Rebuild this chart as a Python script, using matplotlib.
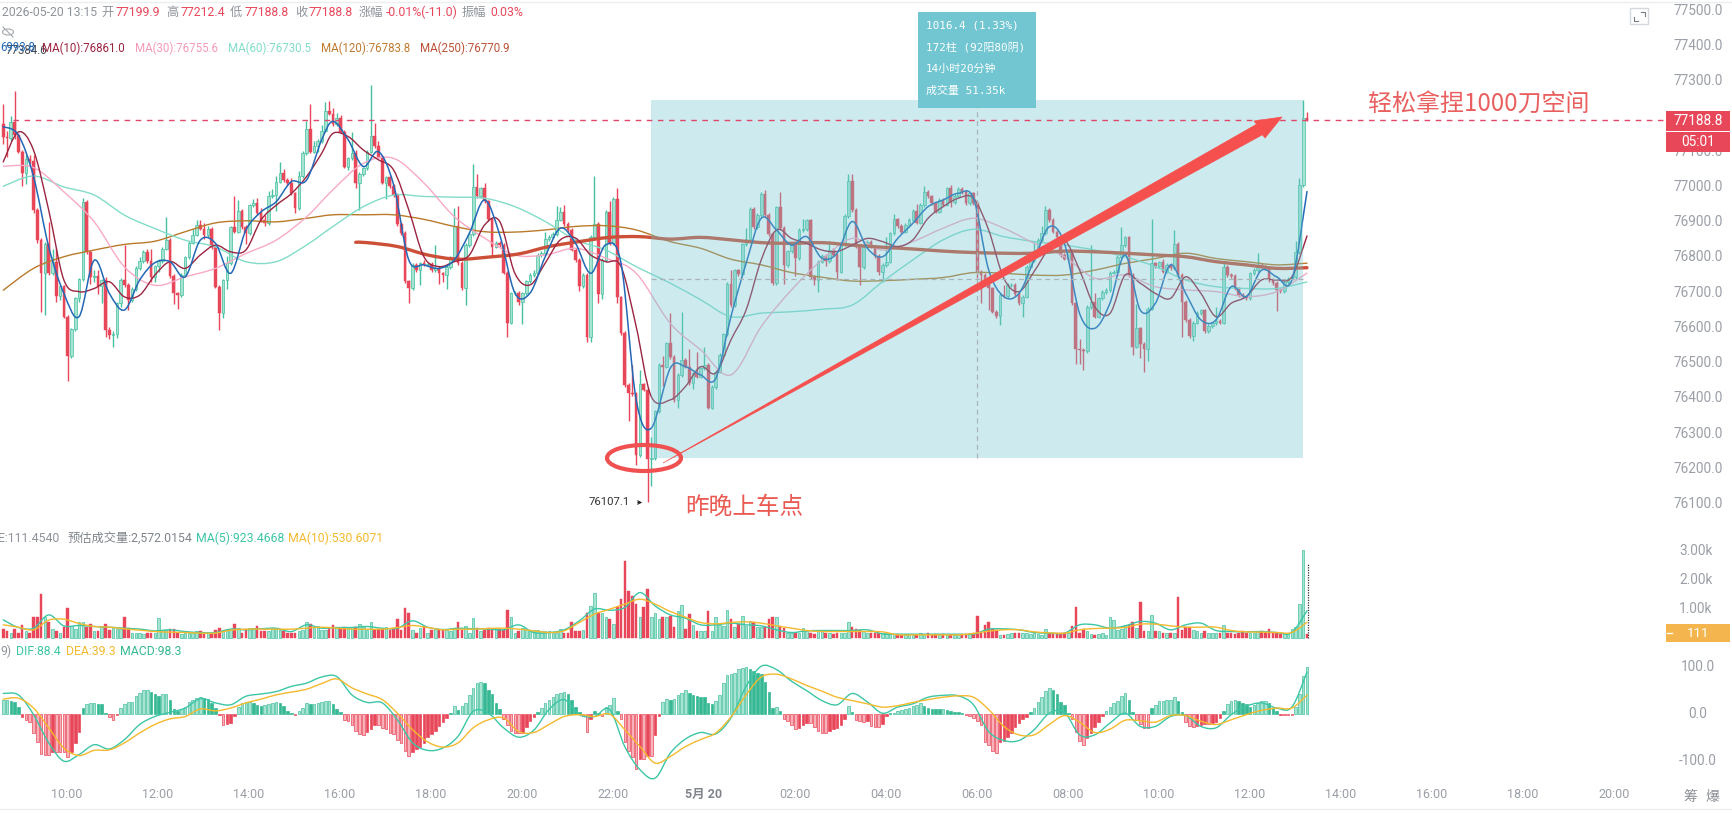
import matplotlib
matplotlib.use('Agg')
import matplotlib.pyplot as plt
from matplotlib.patches import Ellipse, PathPatch, Polygon, Rectangle
from matplotlib.path import Path
import numpy as np

W, H = 1733, 813
LATIN = ['Roboto', 'Noto Sans CJK SC']
MONO = ['DejaVu Sans Mono', 'Noto Sans CJK SC']
CJK = ['Noto Sans CJK SC', 'DejaVu Sans']

first_open = 77180
closes = [
    77143, 77140, 77185, 77147, 77100, 77040, 77080, 77075, 76935, 76850,
    76756, 76838, 76756, 76788, 76690, 76718, 76632, 76521, 76596, 76684,
    76738, 76958, 76816, 76745, 76748, 76720, 76735, 76594, 76580, 76582,
    76670, 76737, 76722, 76680, 76710, 76770, 76790, 76815, 76790, 76745,
    76775, 76790, 76825, 76850, 76747, 76698, 76694, 76750, 76800, 76842,
    76865, 76892, 76882, 76863, 76880, 76830, 76717, 76643, 76735, 76785,
    76885, 76873, 76933, 76887, 76868, 76948, 76955, 76925, 76905, 76898,
    76974, 76978, 77015, 77040, 77020, 77010, 76982, 76940, 77030, 77097,
    77163, 77100, 77115, 77130, 77160, 77215, 77208, 77179, 77195, 77157,
    77058, 77081, 77096, 77012, 77037, 77053, 77100, 77145, 77115, 77086,
    77012, 77027, 77003, 76977, 76895, 76869, 76732, 76713, 76779, 76765,
    76783, 76780, 76782, 76765, 76770, 76755, 76750, 76773, 76800, 76890,
    76784, 76712, 76836, 76866, 77001, 76975, 76996, 76959, 76908, 76831,
    76842, 76836, 76757, 76615, 76698, 76700, 76675, 76698, 76732, 76750,
    76755, 76807, 76812, 76852, 76859, 76867, 76907, 76928, 76895, 76878,
    76822, 76793, 76719, 76750, 76574, 76859, 76895, 76697, 76793, 76930,
    76840, 76966, 76687, 76585, 76438, 76415, 76412, 76240, 76440, 76425,
    76228, 76230, 76363, 76495, 76490, 76556, 76518, 76396, 76467, 76509,
    76490, 76443, 76471, 76462, 76485, 76495, 76374, 76432, 76476, 76523,
    76582, 76724, 76665, 76763, 76753, 76837, 76853, 76937, 76885, 76920,
    76980, 76920, 76867, 76727, 76942, 76883, 76779, 76817, 76835, 76798,
    76878, 76880, 76905, 76745, 76736, 76788, 76805, 76790, 76822, 76807,
    76760, 76837, 76918, 77018, 76935, 76831, 76772, 76831, 76845, 76831,
    76804, 76760, 76779, 76788, 76868, 76908, 76889, 76873, 76892, 76906,
    76933, 76899, 76949, 76987, 76973, 76954, 76930, 76963, 76950, 76996,
    76958, 76975, 76994, 76985, 76955, 76982, 76954, 76760, 76750, 76725,
    76712, 76646, 76634, 76693, 76690, 76722, 76722, 76696, 76670, 76689,
    76774, 76793, 76816, 76850, 76868, 76935, 76906, 76873, 76857, 76807,
    76797, 76816, 76670, 76539, 76538, 76535, 76660, 76674, 76632, 76684,
    76702, 76708, 76757, 76760, 76802, 76835, 76857, 76750, 76547, 76599,
    76555, 76540, 76655, 76783, 76775, 76786, 76760, 76778, 76770, 76838,
    76750, 76675, 76622, 76577, 76615, 76643, 76650, 76592, 76605, 76613,
    76620, 76615, 76774, 76750, 76748, 76712, 76693, 76689, 76685, 76755,
    76764, 76779, 76775, 76770, 76736, 76727, 76708, 76705, 76731, 76740,
    76745, 76816, 77005, 77197, 77188.8,
]
wick_up = [
    55, 15, 15, 88, 5, 5, 10, 10, 15, 5,
    5, 5, 63, 35, 40, 5, 5, 5, 5, 5,
    5, 12, 5, 5, 15, 15, 5, 10, 10, 10,
    5, 5, 98, 5, 5, 5, 10, 5, 10, 35,
    5, 5, 5, 65, 5, 5, 5, 5, 5, 5,
    15, 15, 15, 15, 10, 5, 5, 5, 5, 20,
    5, 90, 30, 5, 5, 5, 10, 15, 15, 15,
    15, 15, 15, 30, 10, 5, 15, 5, 15, 5,
    25, 72, 15, 5, 15, 25, 30, 15, 15, 10,
    5, 5, 60, 10, 5, 5, 5, 144, 36, 15,
    5, 5, 5, 5, 5, 5, 5, 5, 5, 5,
    5, 10, 5, 5, 65, 5, 5, 5, 5, 50,
    55, 5, 5, 5, 65, 35, 5, 15, 5, 5,
    5, 5, 5, 5, 5, 5, 5, 5, 5, 5,
    10, 5, 5, 20, 5, 5, 40, 15, 20, 5,
    5, 5, 5, 5, 5, 5, 136, 5, 5, 5,
    30, 5, 30, 5, 5, 5, 80, 5, 40, 5,
    5, 60, 5, 5, 25, 5, 85, 5, 5, 137,
    5, 50, 5, 60, 5, 50, 5, 5, 5, 5,
    5, 5, 40, 5, 5, 5, 30, 5, 5, 5,
    5, 10, 5, 5, 5, 45, 5, 5, 5, 5,
    5, 30, 5, 5, 5, 5, 5, 5, 25, 5,
    5, 5, 5, 20, 20, 5, 5, 5, 5, 5,
    5, 5, 5, 70, 5, 15, 5, 5, 5, 5,
    5, 20, 5, 15, 5, 5, 5, 5, 5, 5,
    10, 5, 5, 5, 5, 5, 5, 5, 5, 5,
    5, 5, 5, 5, 30, 5, 5, 5, 5, 5,
    5, 5, 30, 5, 20, 10, 5, 5, 5, 5,
    5, 5, 5, 5, 30, 5, 5, 160, 25, 5,
    5, 5, 5, 5, 5, 50, 5, 5, 5, 70,
    5, 5, 5, 125, 5, 5, 10, 5, 5, 40,
    5, 5, 5, 5, 5, 5, 5, 5, 5, 5,
    40, 5, 15, 5, 5, 5, 5, 5, 5, 5,
    5, 35, 5, 5, 5, 5, 5, 5, 5, 5,
    5, 30, 20, 51, 15,
]
wick_down = [
    20, 55, 10, 10, 5, 38, 33, 10, 10, 10,
    112, 120, 5, 5, 15, 10, 5, 72, 5, 5,
    10, 5, 5, 20, 15, 25, 50, 20, 12, 35,
    10, 10, 5, 30, 5, 5, 5, 5, 5, 15,
    15, 15, 5, 5, 5, 30, 40, 5, 5, 5,
    5, 5, 5, 10, 5, 5, 5, 49, 16, 25,
    5, 5, 5, 5, 30, 5, 5, 5, 5, 10,
    5, 5, 45, 5, 5, 5, 5, 15, 5, 5,
    5, 5, 5, 15, 5, 5, 5, 5, 5, 5,
    5, 10, 5, 15, 78, 5, 5, 5, 5, 5,
    5, 45, 5, 5, 5, 5, 5, 42, 5, 5,
    42, 5, 5, 5, 5, 30, 20, 40, 5, 5,
    5, 5, 48, 5, 5, 5, 5, 5, 5, 30,
    5, 5, 5, 40, 5, 5, 10, 65, 5, 5,
    5, 5, 5, 5, 5, 5, 5, 5, 5, 5,
    5, 5, 15, 5, 15, 15, 5, 25, 15, 5,
    5, 5, 15, 5, 5, 80, 5, 30, 5, 5,
    121, 75, 5, 5, 55, 5, 5, 5, 22, 5,
    5, 5, 15, 5, 5, 5, 5, 5, 5, 5,
    5, 5, 5, 5, 5, 5, 5, 5, 5, 5,
    5, 5, 5, 5, 5, 5, 55, 5, 5, 50,
    5, 5, 5, 5, 15, 35, 5, 15, 5, 5,
    25, 5, 5, 5, 5, 5, 50, 5, 5, 5,
    5, 10, 30, 5, 5, 5, 5, 5, 5, 5,
    5, 5, 5, 5, 5, 5, 5, 5, 5, 5,
    15, 5, 5, 5, 5, 5, 5, 18, 80, 5,
    60, 5, 5, 25, 5, 5, 5, 5, 5, 40,
    5, 5, 5, 5, 5, 5, 5, 5, 5, 5,
    5, 5, 5, 40, 40, 55, 5, 5, 5, 5,
    5, 5, 5, 5, 5, 5, 5, 5, 25, 5,
    40, 65, 35, 5, 5, 5, 5, 5, 5, 5,
    5, 100, 5, 5, 15, 5, 5, 5, 5, 5,
    5, 5, 5, 5, 5, 5, 5, 5, 5, 5,
    5, 5, 5, 5, 5, 5, 60, 5, 5, 5,
    5, 5, 5, 5, 3,
]
volumes = [
    290, 230, 140, 290, 170, 440, 230, 170, 690, 710,
    1500, 690, 520, 290, 230, 170, 350, 1010, 400, 290,
    550, 520, 350, 480, 210, 210, 400, 460, 250, 320,
    290, 290, 710, 320, 140, 140, 160, 115, 140, 140,
    140, 670, 250, 250, 290, 290, 170, 115, 160, 170,
    170, 230, 210, 115, 140, 115, 250, 320, 250, 250,
    290, 460, 320, 170, 290, 320, 320, 400, 210, 210,
    230, 320, 320, 250, 230, 140, 170, 140, 210, 250,
    520, 460, 320, 400, 250, 250, 320, 440, 345, 290,
    345, 320, 345, 345, 480, 345, 250, 550, 250, 290,
    290, 345, 250, 290, 630, 250, 1010, 860, 250, 140,
    320, 400, 140, 250, 320, 250, 250, 250, 210, 290,
    540, 250, 400, 170, 670, 320, 210, 250, 320, 290,
    320, 290, 250, 940, 690, 170, 230, 320, 290, 250,
    250, 250, 210, 210, 210, 170, 170, 290, 140, 170,
    520, 210, 230, 250, 860, 1090, 1550, 860, 860, 690,
    630, 460, 1035, 1320, 2650, 1610, 1440, 1150, 690, 1035,
    1670, 690, 860, 630, 690, 690, 750, 370, 920, 1115,
    290, 800, 440, 230, 230, 230, 920, 230, 690, 440,
    400, 940, 630, 345, 460, 750, 400, 575, 520, 370,
    345, 345, 630, 690, 690, 400, 320, 170, 170, 140,
    140, 320, 230, 170, 115, 210, 210, 170, 140, 115,
    140, 140, 140, 520, 345, 290, 250, 230, 170, 140,
    170, 140, 140, 140, 115, 115, 115, 90, 115, 115,
    90, 90, 140, 115, 140, 90, 115, 90, 115, 90,
    90, 90, 115, 115, 115, 170, 170, 750, 170, 440,
    520, 290, 250, 90, 90, 115, 140, 170, 170, 140,
    140, 115, 140, 115, 90, 290, 140, 140, 140, 140,
    170, 140, 400, 1035, 170, 290, 230, 115, 90, 115,
    170, 90, 690, 600, 250, 290, 440, 440, 550, 320,
    1210, 210, 230, 770, 230, 210, 170, 140, 170, 170,
    1380, 250, 345, 345, 250, 230, 170, 210, 140, 170,
    140, 170, 440, 170, 140, 115, 140, 230, 140, 140,
    140, 230, 210, 170, 310, 140, 170, 115, 115, 115,
    290, 345, 1150, 3020, 111,
]
macd_hist = [
    30, 30, 28, 25, 15, -6, -14, -18, -40, -60,
    -85, -87, -88, -82, -82, -82, -82, -92, -82, -62,
    -38, 12, 20, 22, 22, 21, 20, 2, -6, -13,
    -3, 13, 20, 24, 25, 38, 44, 50, 50, 47,
    41, 38, 41, 41, 29, 10, 5, 9, 14, 24,
    30, 33, 36, 34, 31, 22, 12, -3, -25, -22,
    -19, -4, 15, 22, 24, 24, 23, 18, 17, 18,
    20, 23, 25, 22, 16, 5, 1, -3, 5, 12,
    22, 20, 21, 22, 24, 27, 27, 20, 10, 3,
    -13, -16, -24, -36, -44, -46, -38, -32, -24, -24,
    -30, -33, -40, -44, -55, -62, -80, -91, -82, -75,
    -70, -62, -50, -44, -36, -26, -18, -10, 2, 16,
    8, 16, 22, 40, 55, 65, 68, 65, 50, 42,
    22, 10, -12, -25, -37, -40, -42, -40, -28, -16,
    -6, 3, 12, 22, 30, 36, 42, 45, 46, 42,
    30, 14, 3, -5, -39, -12, 6, 2, -5, 14,
    18, 33, 6, -12, -60, -80, -92, -117, -97, -97,
    -90, -90, -45, -5, 24, 32, 30, 32, 39, 43,
    50, 43, 39, 38, 36, 35, 22, 20, 28, 40,
    65, 83, 85, 87, 95, 97, 100, 95, 90, 87,
    85, 68, 47, 13, 15, 5, -12, -16, -25, -33,
    -30, -24, -20, -20, -28, -37, -40, -40, -36, -33,
    -30, -24, -12, 16, 3, -14, -15, -17, -15, -26,
    -28, -28, -22, -5, 1, 2, 5, 8, 10, 12,
    16, 18, 22, 17, 12, 11, 10, 9, 9, 7,
    5, 4, 3, 1, -2, -5, -10, -15, -25, -60,
    -66, -80, -83, -60, -58, -50, -40, -28, -20, -12,
    -6, 4, 12, 24, 35, 48, 55, 50, 42, 24,
    18, 2, -12, -39, -58, -66, -52, -40, -28, -18,
    -4, 5, 14, 22, 28, 38, 45, 30, 4, -14,
    -22, -30, -31, 12, 18, 26, 28, 30, 30, 35,
    28, 3, -18, -27, -29, -26, -24, -22, -22, -20,
    -17, -10, 6, 20, 26, 30, 26, 22, 20, 15,
    18, 22, 26, 26, 22, 12, 5, -3, -3, -3,
    -3, 14, 42, 80, 98.3,
]

# line series are read every 4 candles (fast) or every 8 candles (slow)
ma5 = [
    77171, 77147, 77029, 76830, 76698, 76632, 76792, 76698, 76651, 76736, 76785, 76788, 76745, 76849, 76840, 76755,
    76877, 76929, 76958, 77015, 77019, 77133, 77186, 77134, 77058, 77100, 77006, 76793, 76779, 76769, 76793, 76869,
    76963, 76864, 76699, 76699, 76802, 76883, 76840, 76755, 76836, 76784, 76396, 76316, 76486, 76490, 76467, 76457,
    76632, 76783, 76911, 76878, 76835, 76859, 76798, 76812, 76902, 76826, 76802, 76854, 76897, 76944, 76963, 76982,
    76968, 76765, 76689, 76698, 76793, 76887, 76840, 76641, 76599, 76670, 76807, 76651, 76670, 76779, 76698, 76623,
    76623, 76717, 76689, 76764, 76745, 76736, 76987,
]
ma10 = [
    77071, 77156, 77104, 76934, 76736, 76703, 76712, 76731, 76688, 76693, 76750, 76788, 76769, 76807, 76835, 76816,
    76821, 76906, 76948, 76981, 77029, 77095, 77152, 77143, 77105, 77077, 77048, 76935, 76802, 76774, 76788, 76807,
    76892, 76902, 76755, 76722, 76784, 76850, 76855, 76807, 76788, 76774, 76604, 76405, 76396, 76434, 76490, 76472,
    76566, 76651, 76793, 76878, 76854, 76840, 76821, 76817, 76835, 76854, 76845, 76831, 76850, 76911, 76944, 76968,
    76968, 76878, 76741, 76703, 76760, 76826, 76850, 76764, 76660, 76641, 76750, 76727, 76698, 76684, 76745, 76698,
    76632, 76670, 76689, 76736, 76736, 76745, 76861,
]
ma30 = [
    77059, 77055, 76986, 76901, 76773, 76721, 76745, 76769, 76811, 76849, 76915,
    76992, 77067, 77081, 77011, 76916, 76855, 76807, 76807, 76826, 76798, 76755,
    76613, 76538, 76467, 76604, 76708, 76793, 76854, 76821, 76845, 76883, 76911,
    76883, 76840, 76802, 76741, 76750, 76717, 76708, 76703, 76689, 76703, 76755.6,
]
ma60 = [
    77002, 77031, 77000, 76977, 76920, 76882, 76849, 76830, 76788, 76788, 76835,
    76888, 76944, 76977, 76973, 76971, 76968, 76944, 76902, 76850, 76821, 76774,
    76727, 76680, 76632, 76642, 76646, 76653, 76665, 76731, 76793, 76850, 76880,
    76859, 76845, 76835, 76821, 76802, 76774, 76736, 76717, 76712, 76712, 76730.5,
]
ma120 = [
    76707, 76769, 76802, 76821, 76837, 76846, 76873, 76898, 76904, 76901, 76911,
    76921, 76921, 76921, 76908, 76888, 76873, 76872, 76878, 76888, 76890, 76878,
    76845, 76826, 76795, 76779, 76757, 76744, 76733, 76734, 76738, 76743, 76757,
    76755, 76750, 76750, 76764, 76783, 76797, 76812, 76797, 76788, 76779, 76783.8,
]
ma250_start = 93
ma250 = [
    76843, 76842, 76831, 76807, 76795, 76801, 76810, 76831, 76845, 76857, 76859,
    76852, 76857, 76850, 76842, 76840, 76842, 76835, 76829, 76824, 76818, 76814,
    76812, 76812, 76818, 76816, 76812, 76807, 76802, 76788, 76779, 76769, 76770.9,
]
vol_ma5 = [
    610, 345, 320, 780, 400, 415, 380, 355, 320, 290, 230, 265, 205, 170, 170, 290,
    265, 300, 320, 205, 435, 320, 345, 345, 380, 320, 320, 575, 355, 275, 320, 300,
    290, 265, 435, 170, 170, 265, 575, 980, 940, 1035, 1550, 1090,
    780, 667, 437, 437, 495, 437, 402, 265, 172, 230, 241, 241, 241, 265, 126, 115,
    115, 115, 115, 115, 115, 287, 299, 265, 172, 150, 150, 437, 437, 322, 402, 552,
    495, 265, 437, 495, 241, 207, 195, 207, 172, 172, 923,
]
vol_ma10 = [
    437, 356, 265, 600, 630, 483, 380, 356, 300, 253, 207, 184, 172, 150, 150, 253,
    287, 287, 287, 287, 322, 356, 322, 287, 287, 287, 345, 414, 345, 265, 287, 287,
    310, 322, 287, 230, 172, 230, 517, 805, 977, 1150, 1322, 1150,
    897, 700, 517, 471, 517, 540, 495, 402, 322, 241, 207, 207, 207, 207, 195, 92,
    92, 92, 92, 92, 138, 218, 265, 265, 195, 161, 150, 265, 310, 322, 345, 460,
    460, 402, 356, 356, 356, 241, 195, 184, 172, 172, 530,
]
dif = [
    43, 40, -2, -62, -101, -87, -66, -75, -55, -23, -6, 3, 12, 32, 23, 19,
    37, 42, 47, 58, 65, 78, 79, 40, 24, 23, -13, -62, -78, -73, -48, 5,
    1, -30, -50, -35, 9, 30, -2, -6, 9, -70, -119, -137,
    -84, -54, -40, -43, -9, 58, 101, 94, 69, 49, 28, 19, 43, 25, 1, 14,
    21, 35, 39, 38, 19, -38, -57, -57, -34, 1, 3, -45, -45, -20, 1, -27,
    -27, -6, -4, -27, -30, -2, 16, 23, 12, 14, 88.4,
]
dea = [
    31, 33, 12, -30, -73, -89, -78, -77, -62, -41, -23, -11, -6, 10, 6, 12,
    23, 31, 40, 46, 52, 64, 74, 55, 42, 30, 1, -34, -60, -71, -62, -30,
    -13, -9, -38, -40, -23, -6, -2, -6, -1, -34, -70, -105,
    -91, -70, -55, -41, -7, 40, 78, 84, 74, 60, 48, 35, 28, 21, 14, 17,
    24, 30, 35, 38, 35, 9, -27, -45, -45, -23, -4, -18, -40, -33, -14, -15,
    -18, -4, -4, -16, -23, -13, -2, 7, 12, 12, 39.3,
]
estimated_volume = 2572.0154
current_price = 77188.8
range_low, range_high = 76232, 77248

price_ticks = [77500, 77400, 77300, 77100, 77000, 76900, 76800, 76700, 76600, 76500, 76400, 76300, 76200, 76100]
vol_ticks = [3000, 2000, 1000]
vol_tick_labels = ['3.00k', '2.00k', '1.00k']
macd_ticks = [100, 0, -100]
macd_tick_labels = ['100.0', '0.0', '-100.0']
time_labels = ['10:00', '12:00', '14:00', '16:00', '18:00', '20:00', '22:00', '5月 20',
               '02:00', '04:00', '06:00', '08:00', '10:00', '12:00', '14:00', '16:00', '18:00', '20:00']

UP = '#46c0a0'
UP_PALE = '#a6e3d0'
DOWN = '#e8475a'
DOWN_PALE = '#fab2ba'
SOLID_UP = '#35b893'
GRAY = '#8e939b'
TICK = '#9a9fa7'
BOX = '#72c6d2'

CANDLE_W = 3.79          # px per candle
X_LAST = 1307            # px of the last candle


def pane(top, bottom, y_top, y_bottom):
    a = fig.add_axes([0, 1 - bottom / H, 1666 / W, (bottom - top) / H])
    a.set_xlim((0 - X_LAST) / CANDLE_W + len(closes) - 1, (1666 - X_LAST) / CANDLE_W + len(closes) - 1)
    a.set_ylim(y_bottom, y_top)
    a.axis('off')
    a.patch.set_alpha(0)
    return a


def curve(a, xs, ys, **kw):
    # rounded line through the read points, the chart draws its averages smooth too
    pts = np.column_stack([xs, ys]).astype(float)
    verts = [pts[0]]
    codes = [Path.MOVETO]
    for k in range(len(pts) - 1):
        before = pts[max(k - 1, 0)]
        after = pts[min(k + 2, len(pts) - 1)]
        verts += [pts[k] + (pts[k + 1] - before) / 6, pts[k + 1] - (after - pts[k]) / 6, pts[k + 1]]
        codes += [Path.CURVE4] * 3
    a.add_patch(PathPatch(Path(verts, codes), fill=False, capstyle='round', **kw))


fig = plt.figure(figsize=(W / 100, H / 100), dpi=100, facecolor='white')

idx = np.arange(len(closes))
closes_a = np.array(closes, dtype=float)
opens = np.r_[first_open, closes_a[:-1]]
up_mask = closes_a >= opens
tops = np.maximum(opens, closes_a)
bots = np.minimum(opens, closes_a)
highs = tops + np.array(wick_up)
lows = bots - np.array(wick_down)
lows[170] = 76107.1
fast_x = np.arange(0, len(closes), 4)
slow_x = np.arange(0, len(closes), 8)
# the middle stretch of the price averages was read one candle late
price_fast_x = fast_x.copy()
price_fast_x[22:44] -= 1
price_slow_x = slow_x.copy()
price_slow_x[11:22] -= 1

# price pane: 100 price units = 35.25 px, 77500 sits at y=10.7
scale = 0.3525
ax = pane(0, 520, 77500 + 10.7 / scale, 77500 - (520 - 10.7) / scale)
ax.vlines(idx[up_mask], lows[up_mask], highs[up_mask], color=UP, lw=1, zorder=2)
ax.vlines(idx[~up_mask], lows[~up_mask], highs[~up_mask], color=DOWN, lw=1, zorder=2)
ax.bar(idx[up_mask], (tops - bots)[up_mask], bottom=bots[up_mask], width=0.7, color=UP_PALE, edgecolor=UP, lw=0.5, zorder=3)
ax.bar(idx[~up_mask], (tops - bots)[~up_mask], bottom=bots[~up_mask], width=0.7, color=DOWN, edgecolor=DOWN, lw=0.3, zorder=3)
curve(ax, price_slow_x, ma120, color='#b97a2a', lw=1, zorder=4)
curve(ax, price_slow_x, ma60, color='#82dcc9', lw=1, zorder=4)
curve(ax, price_slow_x, ma30, color='#f8a9c6', lw=1, zorder=4)
curve(ax, np.r_[ma250_start, np.arange(96, len(closes), 8)], ma250, color='#cc5038', lw=2.4, zorder=4)
curve(ax, price_fast_x, ma10, color='#9b2440', lw=1, zorder=4)
curve(ax, price_fast_x, ma5, color='#2268b6', lw=1.1, zorder=4)
rect_left = (651 - X_LAST) / CANDLE_W + len(closes) - 1
rect_right = (1303 - X_LAST) / CANDLE_W + len(closes) - 1
ax.add_patch(Rectangle((rect_left, range_low), rect_right - rect_left, range_high - range_low,
                       facecolor=BOX, alpha=0.35, lw=0, zorder=5))
ax.plot([rect_left, rect_right], [(range_low + range_high) / 2] * 2, color='#a9b4b8', lw=0.9, ls=(0, (4, 3)), zorder=6)
mid_i = (rect_left + rect_right) / 2
ax.plot([mid_i, mid_i], [range_low, range_high], color='#a9b4b8', lw=0.9, ls=(0, (4, 3)), zorder=6)
ax.plot([2.6, (1666 - X_LAST) / CANDLE_W + len(closes) - 1], [current_price] * 2, color='#e0476a', lw=1, ls=(0, (4, 4)), zorder=6)

# volume pane: 1000 = 29 px
vax = pane(540, 640, (637.5 - 540) / 0.029, -(640 - 637.5) / 0.029)
vols = np.array(volumes)
vax.bar(idx[up_mask], vols[up_mask], width=0.68, color=UP_PALE, edgecolor=UP, lw=0.5, zorder=2)
vax.bar(idx[~up_mask], vols[~up_mask], width=0.68, color=DOWN, edgecolor=DOWN, lw=0.3, zorder=2)
vax.plot([idx[-1] + 0.2] * 2, [0, estimated_volume], color='#333333', lw=0.9, ls=(0, (1, 1)), zorder=3)
curve(vax, fast_x, vol_ma5, color='#3cc6a6', lw=1, zorder=4)
curve(vax, fast_x, vol_ma10, color='#f4b92e', lw=1, zorder=4)

# macd pane: 100 = 47 px
max_ = pane(645, 790, (713.7 - 645) / 0.47, -(790 - 713.7) / 0.47)
hist = np.array(macd_hist, dtype=float)
prev = np.r_[hist[0], hist[:-1]]
growing = np.abs(hist) >= np.abs(prev)
for mask, face, edge in [((hist >= 0) & growing, UP_PALE, UP), ((hist >= 0) & ~growing, SOLID_UP, SOLID_UP),
                         ((hist < 0) & growing, DOWN_PALE, DOWN), ((hist < 0) & ~growing, DOWN, DOWN)]:
    max_.bar(idx[mask], hist[mask], width=0.68, color=face, edgecolor=edge, lw=0.5, zorder=2)
curve(max_, fast_x, dif, color='#3cc6a6', lw=1, zorder=4)
curve(max_, fast_x, dea, color='#f4b92e', lw=1, zorder=4)

# overlay in pixel coordinates for labels, boxes and the hand drawn marks
top = fig.add_axes([0, 0, 1, 1])
top.set_xlim(0, W)
top.set_ylim(H, 0)
top.axis('off')
top.patch.set_alpha(0)


def label(x, y, s, color=GRAY, size=8.8, ha='left', family=LATIN, **kw):
    top.text(x, y, s, color=color, fontsize=size, ha=ha, va='center', family=family, **kw)


top.plot([0, W], [2.5, 2.5], color='#eceef0', lw=1)
top.plot([0, W], [809, 809], color='#eceef0', lw=1)

for s, x, c in [('2026-05-20 13:15', 2, GRAY), ('开', 101, GRAY), ('77199.9', 116, DOWN), ('高', 166, GRAY),
                ('77212.4', 181, DOWN), ('低', 230, GRAY), ('77188.8', 245, DOWN), ('收', 295, GRAY),
                ('77188.8', 309, DOWN), ('涨幅', 359, GRAY), ('-0.01%(-11.0)', 386, DOWN), ('振幅', 462, GRAY),
                ('0.03%', 490, DOWN)]:
    label(x, 12.5, s, c)
top.add_patch(Ellipse((8, 32), 11, 6, fill=False, ec='#a4a8ae', lw=0.8))
top.plot([3, 13], [27, 37], color='#a4a8ae', lw=0.8)
label(6, 51, '77384.6', '#444a52', 8.3)
label(0, 47.5, '6993.8', '#2268b6', 8.3)
for s, x, c in [('MA(10):76861.0', 42, '#9b2440'), ('MA(30):76755.6', 135, '#f39ab9'), ('MA(60):76730.5', 228, '#82dcc9'),
                ('MA(120):76783.8', 321, '#c07a30'), ('MA(250):76770.9', 420, '#bb5238')]:
    label(x, 48.5, s, c, 8.3)

label(-2, 538.5, 'E:111.4540')
label(68, 538.5, '预估成交量:2,572.0154', '#80858d', 8.8)
label(196, 538.5, 'MA(5):923.4668', '#3cc6a6')
label(288, 538.5, 'MA(10):530.6071', '#f4b92e')
label(0, 651, '9)')
label(16, 651, 'DIF:88.4', '#3cc6a6')
label(66, 651, 'DEA:39.3', '#f4b92e')
label(120, 651, 'MACD:98.3', '#35b893')

for v in price_ticks:
    label(1698, 10.7 + (77500 - v) * scale, '%.1f' % v, TICK, 9.8, ha='center')
for v, s in zip(vol_ticks, vol_tick_labels):
    label(1696, 637.5 - v * 0.029, s, TICK, 9.8, ha='center')
for v, s in zip(macd_ticks, macd_tick_labels):
    label(1698, 713.7 - v * 0.47, s, TICK, 9.8, ha='center')
for k, s in enumerate(time_labels):
    bold = s == '5月 20'
    label(67 + 91 * k, 794.5, s, '#80858d' if bold else TICK, 9, ha='center', fontweight='bold' if bold else 'normal')
label(1690, 797, '筹', '#8a8f96', 10, ha='center', family=CJK)
label(1712, 797, '爆', '#8a8f96', 10, ha='center', family=CJK)

top.add_patch(Rectangle((1666, 111), 64, 20, fc='#e8475a', lw=0, zorder=5))
top.add_patch(Rectangle((1666, 132), 64, 20, fc='#e8475a', lw=0, zorder=5))
label(1698, 121, '77188.8', 'white', 9.8, ha='center', zorder=6)
label(1698, 142, '05:01', 'white', 9.8, ha='center', zorder=6)
top.add_patch(Rectangle((1666, 624), 64, 18, fc='#f5b54e', lw=0))
top.plot([1667, 1672], [633, 633], color='white', lw=1)
label(1698, 633.5, '111', 'white', 9.6, ha='center')

top.add_patch(Rectangle((1630.5, 8.5), 18, 16, fill=False, ec='#d5d8dc', lw=1))
top.plot([1634, 1634, 1638], [17, 21, 21], color='#777b82', lw=0.8)
top.plot([1641, 1645, 1645], [12, 12, 16], color='#777b82', lw=0.8)

top.add_patch(Rectangle((918, 12), 118, 96, fc=BOX, lw=0))
for y, s in [(25, '1016.4 (1.33%)'), (47, '172柱 (92阳80阴)'), (69, '14小时20分钟'), (91, '成交量 51.35k')]:
    label(926, y, s, 'white', 7.9, family=MONO)

# tapered arrow from the entry ring to the top
tail = np.array([663.0, 463.0])
tip = np.array([1282.0, 117.0])
neck = np.array([1259.5, 129.5])
along = (tip - tail) / np.linalg.norm(tip - tail)
normal = np.array([-along[1], along[0]])
top.add_patch(Polygon([tail, neck + normal * 6, (1265, 138), tip, (1254, 121), neck - normal * 6],
                      closed=True, fc='#f5504e', ec='#f5504e', lw=0.5, zorder=8))
top.add_patch(Ellipse((644, 458), 74, 26, fill=False, ec='#f0504f', lw=3, zorder=8))
label(1368, 104, '轻松拿捏1000刀空间', '#e95f5f', 17.3, family=CJK, zorder=9)
label(685, 507, '昨晚上车点', '#ea5a52', 17, family=CJK, zorder=9)
label(589, 502, '76107.1', '#333333', 8.2)
top.annotate('', xy=(645, 502.5), xytext=(635, 502.5), arrowprops=dict(arrowstyle='->', color='#222222', lw=0.8, mutation_scale=6))

fig.savefig('out.png', dpi=100, facecolor='white')
